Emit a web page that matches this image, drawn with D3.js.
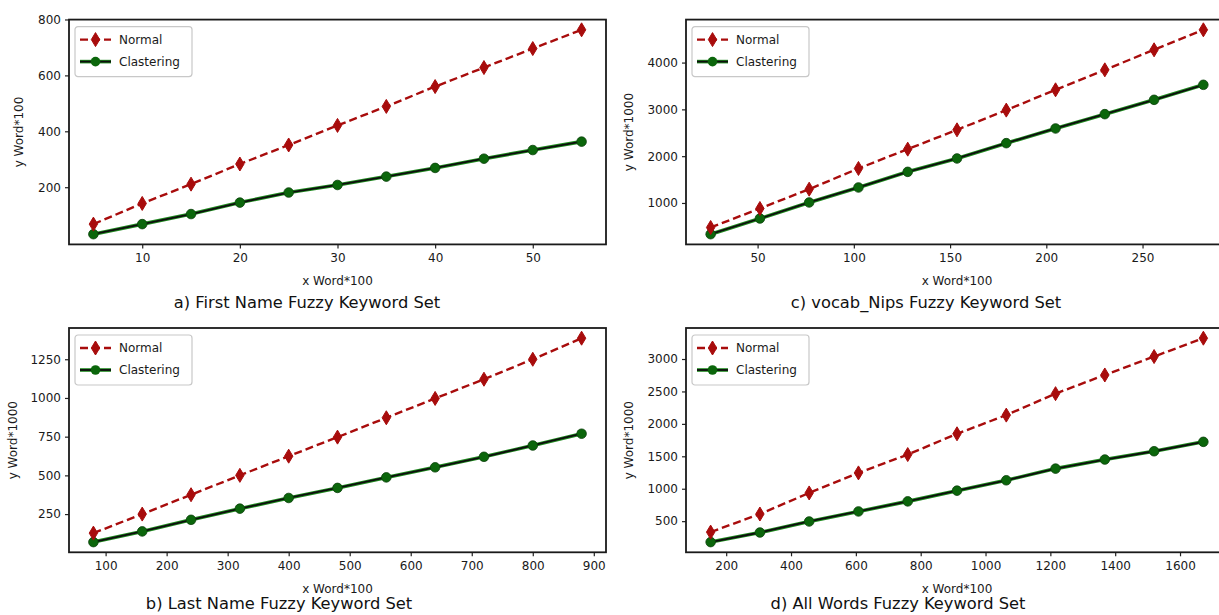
<!DOCTYPE html>
<html>
<head>
<meta charset="utf-8">
<script src="https://cdn.jsdelivr.net/npm/d3@7"></script>
<style>
  body { margin: 0; background: #fff; }
  svg { display: block; overflow: hidden; font-family: "DejaVu Sans", sans-serif; }
</style>
</head>
<body>
<svg id="chart" width="1219" height="615"></svg>
<script>
// panel a) First Name
var xA = [5, 10, 15, 20, 25, 30, 35, 40, 45, 50, 55];
var normalA = [68, 142, 211, 283, 351, 421, 489, 560, 628, 696, 763];
var clusterA = [32, 68, 104, 145, 181, 208, 238, 269, 302, 333, 363];
var xTicksA = [10, 20, 30, 40, 50];
var yTicksA = [200, 400, 600, 800];

// panel c) vocab_Nips
var xC = [25.6, 51.2, 76.8, 102.4, 128, 153.6, 179.2, 204.8, 230.4, 256, 281.6];
var normalC = [476, 882, 1295, 1737, 2150, 2563, 2984, 3418, 3845, 4273, 4700];
var clusterC = [333, 668, 1011, 1331, 1665, 1951, 2278, 2592, 2898, 3204, 3525];
var xTicksC = [50, 100, 150, 200, 250];
var yTicksC = [1000, 2000, 3000, 4000];

// panel b) Last Name
var xB = [80, 160, 240, 320, 400, 480, 560, 640, 720, 800, 880];
var normalB = [127, 250, 375, 500, 624, 747, 872, 997, 1121, 1250, 1386];
var clusterB = [69, 138, 213, 285, 354, 419, 487, 552, 620, 693, 769];
var xTicksB = [100, 200, 300, 400, 500, 600, 700, 800, 900];
var yTicksB = [250, 500, 750, 1000, 1250];

// panel d) All Words
var xD = [152, 304, 456, 608, 760, 912, 1064, 1216, 1368, 1520, 1672];
var normalD = [331, 610, 935, 1244, 1527, 1847, 2135, 2466, 2754, 3038, 3321];
var clusterD = [177, 325, 495, 650, 805, 970, 1130, 1310, 1450, 1578, 1723];
var xTicksD = [200, 400, 600, 800, 1000, 1200, 1400, 1600];
var yTicksD = [500, 1000, 1500, 2000, 2500, 3000];

var red = "#a80c0c", green = "#0b660b";

var svg = d3.select("#chart");

function padded(vals) {
    var ext = d3.extent(vals), pad = (ext[1] - ext[0]) * 0.05;
    return [ext[0] - pad, ext[1] + pad];
}

function thinDiamond(g, cx, cy) {
    g.append("path")
        .attr("d", "M" + cx + "," + (cy - 7) + "L" + (cx + 4.2) + "," + cy +
                   "L" + cx + "," + (cy + 7) + "L" + (cx - 4.2) + "," + cy + "Z")
        .attr("fill", red).attr("stroke", red).attr("stroke-width", 1);
}

function drawPanel(p) {
    var g = svg.append("g").attr("transform", "translate(" + p.left + "," + p.top + ")");

    var x = d3.scaleLinear().domain(padded(p.xs)).range([0, p.width]);
    var y = d3.scaleLinear().domain(padded(p.normal.concat(p.cluster))).range([p.height, 0]);

    var fmt = d3.format("d");
    var xAxis = g.append("g").attr("transform", "translate(0," + p.height + ")")
        .call(d3.axisBottom(x).tickValues(p.xTicks).tickFormat(fmt).tickSize(4).tickPadding(5).tickSizeOuter(0));
    var yAxis = g.append("g")
        .call(d3.axisLeft(y).tickValues(p.yTicks).tickFormat(fmt).tickSize(4).tickPadding(4).tickSizeOuter(0));
    [xAxis, yAxis].forEach(function(a) {
        a.select(".domain").remove();
        a.selectAll("text").attr("font-size", 12).attr("fill", "#1a1a1a")
            .attr("font-family", "DejaVu Sans, sans-serif");
        a.selectAll("line").attr("stroke", "#222").attr("stroke-width", 1.2);
    });

    // frame
    g.append("rect").attr("width", p.width).attr("height", p.height)
        .attr("fill", "none").attr("stroke", "#1a1a1a").attr("stroke-width", 1.8);

    var pts = p.xs.map(function(v, i) { return {x: v, n: p.normal[i], c: p.cluster[i]}; });

    var lineN = d3.line().x(function(d) { return x(d.x); }).y(function(d) { return y(d.n); });
    var lineC = d3.line().x(function(d) { return x(d.x); }).y(function(d) { return y(d.c); });

    g.append("path").datum(pts).attr("d", lineC)
        .attr("fill", "none").attr("stroke", "#1f8a1f").attr("stroke-width", 3.6);
    g.append("path").datum(pts).attr("d", lineC)
        .attr("fill", "none").attr("stroke", "#0d0d0d").attr("stroke-width", 1.8);
    g.selectAll(".cdot").data(pts).enter().append("circle")
        .attr("cx", function(d) { return x(d.x); })
        .attr("cy", function(d) { return y(d.c); })
        .attr("r", 4.8).attr("fill", green).attr("stroke", "#0a400a").attr("stroke-width", 0.8);

    g.append("path").datum(pts).attr("d", lineN)
        .attr("fill", "none").attr("stroke", red).attr("stroke-width", 2.4)
        .attr("stroke-dasharray", "8,4");
    pts.forEach(function(d) { thinDiamond(g, x(d.x), y(d.n)); });

    // legend
    var lg = g.append("g").attr("transform", "translate(" + 6 + "," + 7 + ")");
    lg.append("rect").attr("width", 117).attr("height", 50).attr("rx", 3)
        .attr("fill", "#fff").attr("fill-opacity", 0.85)
        .attr("stroke", "#c8c8c8").attr("stroke-width", 1.2);
    lg.append("line").attr("x1", 5).attr("x2", 36).attr("y1", 13).attr("y2", 13)
        .attr("stroke", red).attr("stroke-width", 2.4).attr("stroke-dasharray", "8,4");
    thinDiamond(lg, 20.5, 13);
    lg.append("line").attr("x1", 5).attr("x2", 36).attr("y1", 35).attr("y2", 35)
        .attr("stroke", "#1f8a1f").attr("stroke-width", 3.6);
    lg.append("line").attr("x1", 5).attr("x2", 36).attr("y1", 35).attr("y2", 35)
        .attr("stroke", "#0d0d0d").attr("stroke-width", 1.8);
    lg.append("circle").attr("cx", 20.5).attr("cy", 35).attr("r", 4.8).attr("fill", green);
    lg.append("text").attr("x", 44).attr("y", 17).attr("font-size", 12).attr("fill", "#1a1a1a").text("Normal");
    lg.append("text").attr("x", 44).attr("y", 39).attr("font-size", 12).attr("fill", "#1a1a1a").text("Clastering");

    // axis labels
    g.append("text").attr("x", p.width / 2).attr("y", p.height + 41)
        .attr("text-anchor", "middle").attr("font-size", 12).attr("fill", "#1a1a1a").text("x Word*100");
    g.append("text").attr("transform", "translate(" + p.ylabelX + "," + (p.height / 2) + ") rotate(-90)")
        .attr("text-anchor", "middle").attr("font-size", 12).attr("fill", "#1a1a1a").text(p.ylabel);

    svg.append("text").attr("x", p.titleX).attr("y", p.titleY)
        .attr("text-anchor", "middle").attr("font-size", 16.3).attr("fill", "#111").text(p.title);
}

drawPanel({left: 69, top: 19.6, width: 537, height: 224.8, xs: xA, normal: normalA, cluster: clusterA,
    xTicks: xTicksA, yTicks: yTicksA, ylabel: "y Word*100", ylabelX: -46,
    title: "a) First Name Fuzzy Keyword Set", titleX: 307, titleY: 308});
drawPanel({left: 686, top: 19.6, width: 542, height: 224.8, xs: xC, normal: normalC, cluster: clusterC,
    xTicks: xTicksC, yTicks: yTicksC, ylabel: "y Word*1000", ylabelX: -53,
    title: "c) vocab_Nips Fuzzy Keyword Set", titleX: 926, titleY: 308});
drawPanel({left: 69, top: 328, width: 537, height: 224.3, xs: xB, normal: normalB, cluster: clusterB,
    xTicks: xTicksB, yTicks: yTicksB, ylabel: "y Word*1000", ylabelX: -52,
    title: "b) Last Name Fuzzy Keyword Set", titleX: 279, titleY: 609});
drawPanel({left: 686, top: 328, width: 542, height: 224.3, xs: xD, normal: normalD, cluster: clusterD,
    xTicks: xTicksD, yTicks: yTicksD, ylabel: "y Word*1000", ylabelX: -53,
    title: "d) All Words Fuzzy Keyword Set", titleX: 898, titleY: 609});
</script>
</body>
</html>
